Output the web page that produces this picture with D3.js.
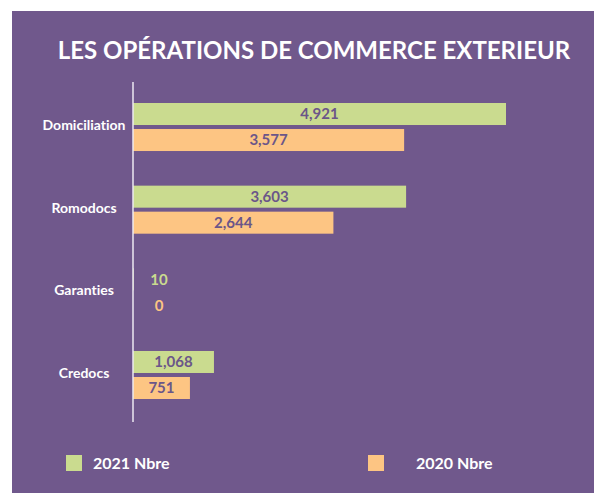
<!DOCTYPE html>
<html>
<head>
<meta charset="utf-8">
<script src="https://cdn.jsdelivr.net/npm/d3@7"></script>
<style>
  body { margin: 0; background: #fff; }
  text { font-family: Lato, "Open Sans", sans-serif; font-weight: 700; font-variant-ligatures: none; }
</style>
</head>
<body>
<svg id="chart" width="594" height="493"></svg>
<script>
// data
let categories = ['Domiciliation', 'Romodocs', 'Garanties', 'Credocs'];
let seriesNames = ['2021 Nbre', '2020 Nbre'];
let values2021 = [4921, 3603, 10, 1068];
let values2020 = [3577, 2644, 0, 751];

let colors = {bg: '#70588c', green: '#cadb8f', orange: '#fdc583', ink: '#6b5689'};
let seriesColors = [colors.green, colors.orange];

let svg = d3.select('#chart');

// panel
svg.append('rect')
    .attr('x', 12).attr('y', 11)
    .attr('width', 582).attr('height', 482)
    .attr('fill', colors.bg);

svg.append('text')
    .attr('x', 314).attr('y', 59)
    .attr('text-anchor', 'middle')
    .attr('fill', '#fff')
    .style('font-size', '24px')
    .text('LES OPÉRATIONS DE COMMERCE EXTERIEUR');

let data = categories.map((c, i) => ({cat: c, vals: [values2021[i], values2020[i]]}));

let x = d3.scaleLinear()
    .domain([0, d3.max(values2021.concat(values2020))])
    .range([133, 506]);

let y0 = d3.scaleBand()
    .domain(categories)
    .range([82, 420])
    .paddingInner(0.419)
    .paddingOuter(0.254);

let y1 = d3.scaleBand()
    .domain(d3.range(seriesNames.length))
    .range([0, y0.bandwidth()])
    .paddingInner(4 / 26);

let groups = svg.append('g').selectAll('g.group')
    .data(data)
    .enter().append('g')
    .attr('class', 'group')
    .attr('transform', d => 'translate(0,' + y0(d.cat) + ')');

groups.selectAll('rect')
    .data(d => d.vals)
    .enter().append('rect')
    .attr('x', x(0))
    .attr('y', (v, i) => y1(i))
    .attr('width', v => x(v) - x(0))
    .attr('height', y1.bandwidth())
    .attr('fill', (v, i) => seriesColors[i]);

// value labels: inside when the bar is wide enough, else outside in bar colour
groups.selectAll('text.val')
    .data(d => d.vals)
    .enter().append('text')
    .attr('class', 'val')
    .attr('x', v => (x(v) - x(0) > 50) ? (x(0) + x(v)) / 2 : x(0) + 26)
    .attr('y', (v, i) => y1(i) + y1.bandwidth() / 2)
    .attr('dy', '0.36em')
    .attr('text-anchor', 'middle')
    .attr('fill', (v, i) => (x(v) - x(0) > 50) ? colors.ink : seriesColors[i])
    .style('font-size', '15px')
    .text(d3.format(','));

// category labels
groups.append('text')
    .attr('x', 84)
    .attr('y', y0.bandwidth() / 2 - 2)
    .attr('dy', '0.36em')
    .attr('text-anchor', 'middle')
    .attr('fill', '#fff')
    .style('font-size', '14px')
    .text(d => d.cat);

// axis line
svg.append('line')
    .attr('x1', x(0)).attr('x2', x(0))
    .attr('y1', y0.range()[0]).attr('y2', y0.range()[1] + 2)
    .attr('stroke', '#ece8f2')
    .attr('stroke-width', 1.5);

// legend
let legendX = [66, 368];
let legendTextX = [93, 416];
let legend = svg.append('g').selectAll('g')
    .data(seriesNames)
    .enter().append('g');

legend.append('rect')
    .attr('x', (d, i) => legendX[i])
    .attr('y', 455)
    .attr('width', 16).attr('height', 16)
    .attr('fill', (d, i) => seriesColors[i]);

legend.append('text')
    .attr('x', (d, i) => legendTextX[i])
    .attr('y', 469)
    .attr('fill', '#fff')
    .style('font-size', '16px')
    .text(d => d);
</script>
</body>
</html>
